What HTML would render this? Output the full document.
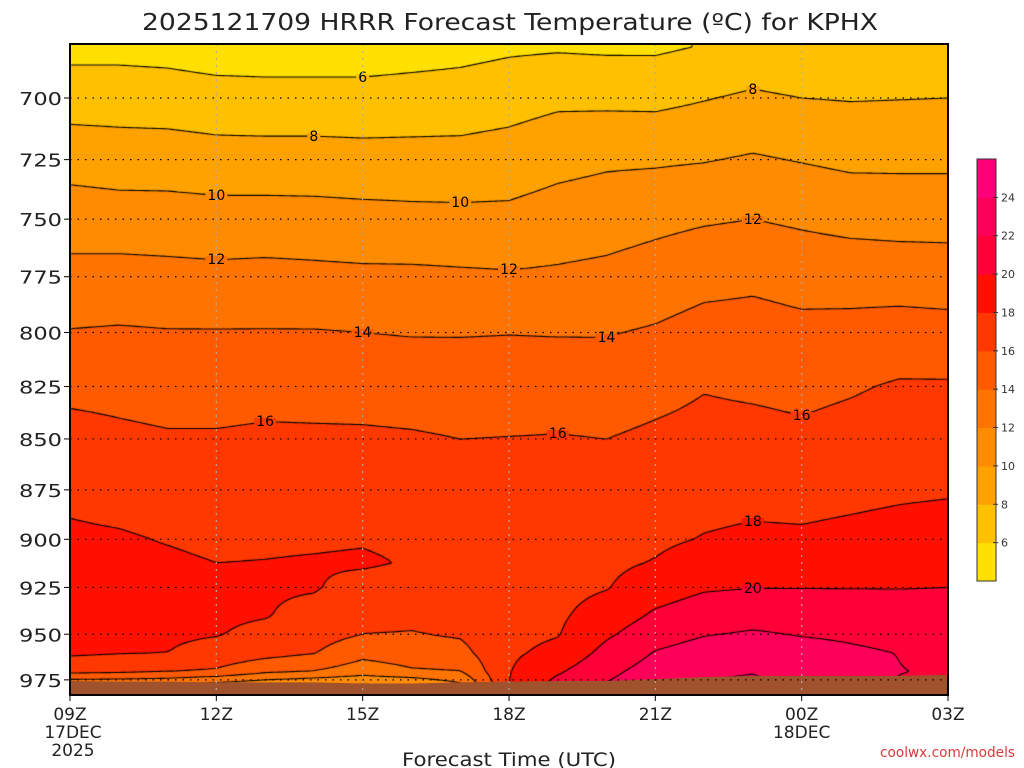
<!DOCTYPE html>
<html><head><meta charset="utf-8">
<style>
html,body{margin:0;padding:0;background:#fff;}
#wrap{position:relative;width:1024px;height:768px;overflow:hidden;font-family:"DejaVu Sans","Liberation Sans",sans-serif;}
canvas,svg{position:absolute;left:0;top:0;}
text{font-family:"DejaVu Sans","Liberation Sans",sans-serif;}
</style></head>
<body>
<div id="wrap">
<canvas id="cv" width="1024" height="768"></canvas>
<svg id="sv" width="1024" height="768"></svg>
</div>
<script>
// ---- data ----
const hourLabels = ["09Z","12Z","15Z","18Z","21Z","00Z","03Z"];
const dateLabels = [["17DEC","2025"],null,null,null,null,["18DEC"],null];
const pressureTicks = [700,725,750,775,800,825,850,875,900,925,950,975];
const pressures = [680,700,725,750,775,800,825,850,875,900,912,925,940,950,960,970,980];
const surfacePressure = [975.6,976.0,976.0,976.4,976.4,976.4,977.0,977.0,976.4,976.0,975.6,975.6,974.6,973.4,972.8,972.8,972.8,972.8,972.2];
const colorbarLevels = [6,8,10,12,14,16,18,20,22,24];
const t09 = [5.4,7.1,9.2,11.1,12.6,14.1,15.5,16.7,17.6,18.3,18.6,18.8,18.8,18.6,18.3,16.7,11];
const t10 = [5.4,7.1,9.0,10.95,12.7,14.2,15.4,16.4,17.3,18.2,18.4,18.6,18.6,18.4,18.1,16.5,11];
const t11 = [5.3,7.0,9.0,10.9,12.6,14.1,15.2,16.2,17.1,17.9,18.3,18.5,18.5,18.3,18.0,16.1,11];
const t12 = [5.0,6.8,8.8,10.8,12.5,14.1,15.2,16.2,16.95,17.6,18.0,18.3,18.3,18.1,17.3,15.8,10];
const t13 = [5.0,6.7,8.8,10.8,12.6,14.1,15.4,16.3,17.0,17.7,18.05,18.2,18.1,17.5,16.7,14.5,9.5];
const t14 = [5.0,6.7,8.8,10.75,12.5,14.1,15.3,16.3,17.1,17.75,18.15,18.15,17.4,16.8,16.1,14.0,9];
const t15 = [5.0,6.7,8.7,10.65,12.4,14.0,15.2,16.3,17.1,17.85,18.25,17.3,16.5,16.0,14.6,13.0,9];
const t16 = [5.2,6.8,8.7,10.55,12.4,13.9,15.1,16.2,16.9,17.6,17.85,17.2,16.4,15.9,15.0,13.8,9];
const t17 = [5.4,6.9,8.7,10.5,12.3,13.9,15.0,16.0,16.7,17.1,17.2,17.0,16.6,16.2,15.4,14.0,11];
const t18 = [5.7,7.2,8.9,10.5,12.2,13.95,15.0,16.05,16.5,16.8,17.0,17.2,17.4,17.5,17.7,17.9,18.1];
const t19 = [5.8,7.6,9.4,10.9,12.3,13.9,15.1,16.1,16.5,17.0,17.2,17.45,17.7,17.9,18.5,19.7,21];
const t20 = [5.7,7.55,9.7,11.15,12.5,13.9,15.0,16.0,16.6,17.3,17.6,17.9,18.9,19.7,20.6,21.5,22.3];
const t21 = [5.7,7.5,9.75,11.5,12.9,14.2,15.4,16.35,17.0,17.65,18.1,19.1,20.3,21.2,22.1,22.8,23.4];
const t22 = [6.1,7.9,9.9,11.8,13.4,14.7,15.9,16.6,17.3,18.1,18.9,19.8,21.0,21.9,22.8,23.6,24.4];
const t23 = [6.6,8.3,10.2,12.0,13.6,14.75,15.7,16.6,17.4,18.35,19.1,19.95,21.35,22.2,23.1,23.9,24.5];
const t00 = [6.3,8.0,9.9,11.7,13.3,14.5,15.5,16.4,17.3,18.3,19.15,19.95,21.2,21.9,22.7,23.3,23.6];
const t01 = [6.4,7.9,9.6,11.4,13.2,14.6,15.8,16.7,17.5,18.5,19.2,19.95,21.0,21.7,22.3,22.9,23.2];
const t02 = [6.5,7.95,9.6,11.3,13.1,14.8,16.2,17.0,17.7,18.7,19.3,19.95,20.8,21.4,21.95,22.05,21.8];
const t03 = [6.6,8.0,9.6,11.3,13.0,14.7,16.2,17.0,17.8,18.9,19.45,20.0,20.6,21.0,21.4,21.8,22.1];
const temps = [t09,t10,t11,t12,t13,t14,t15,t16,t17,t18,t19,t20,t21,t22,t23,t00,t01,t02,t03];
const contourLabels = [["6",6,6],["8",5,8],["8",14,8],["10",3,10],["10",8,10],["12",3,12],["12",9,12],["12",14,12],["14",6,14],["14",11,14],["16",4,16],["16",10,16],["16",15,16],["18",14,18],["20",14,20]];

// ---- layout ----
const PX0=70, PX1=948, PY0=44, PY1=695, NH=temps.length-1;
const bandColors=["#FFE000","#FFC000","#FFA200","#FF8C00","#FF7400","#FF5A00","#FF3800","#FF1000","#FF0038","#FF0058","#FF0078"];
function xOf(h){return PX0+h*(PX1-PX0)/NH;}
function yOf(p){return 98+1756*Math.log(p/700);}
const lnP=pressures.map(p=>Math.log(p));
function field(px,py){
  let h=(px-PX0)/((PX1-PX0)/NH); h=Math.max(0,Math.min(NH,h));
  let i=Math.min(NH-1,Math.floor(h)), fx=h-i;
  let lp=Math.log(700)+(py-98)/1756;
  let j,fy;
  if(lp<=lnP[0]){j=0;fy=0;}
  else if(lp>=lnP[lnP.length-1]){j=lnP.length-2;fy=1;}
  else{ j=0; while(lnP[j+1]<lp) j++; fy=(lp-lnP[j])/(lnP[j+1]-lnP[j]); }
  const a=temps[i][j],b=temps[i+1][j],c=temps[i][j+1],d=temps[i+1][j+1];
  return (a*(1-fx)+b*fx)*(1-fy)+(c*(1-fx)+d*fx)*fy;
}
function band(t){return Math.max(0,Math.min(10,Math.floor((t-4)/2)));}
function hex(c){return [parseInt(c.substr(1,2),16),parseInt(c.substr(3,2),16),parseInt(c.substr(5,2),16)];}
const rgb=bandColors.map(hex);

const cv=document.getElementById('cv'), ctx=cv.getContext('2d');
const img=ctx.createImageData(PX1-PX0,PY1-PY0);
for(let py=PY0;py<PY1;py++){for(let px=PX0;px<PX1;px++){
  const c=rgb[band(field(px+0.5,py+0.5))];
  const k=((py-PY0)*(PX1-PX0)+(px-PX0))*4;
  img.data[k]=c[0];img.data[k+1]=c[1];img.data[k+2]=c[2];img.data[k+3]=255;}}
ctx.putImageData(img,PX0,PY0);

// contour lines (marching squares)
const S=3;
const nx=Math.ceil((PX1-PX0)/S), ny=Math.ceil((PY1-PY0)/S);
const G=[];
for(let j=0;j<=ny;j++){G[j]=[];for(let i=0;i<=nx;i++){G[j][i]=field(Math.min(PX1,PX0+i*S),Math.min(PY1,PY0+j*S));}}
ctx.strokeStyle="#000";ctx.lineWidth=1.1;ctx.beginPath();
for(let L=6;L<=24;L+=2){
  for(let j=0;j<ny;j++)for(let i=0;i<nx;i++){
    const x0=PX0+i*S,y0=PY0+j*S,x1=Math.min(PX1,x0+S),y1=Math.min(PY1,y0+S);
    const v=[G[j][i],G[j][i+1],G[j+1][i+1],G[j+1][i]];
    const pts=[];
    const corners=[[x0,y0],[x1,y0],[x1,y1],[x0,y1]];
    for(let e=0;e<4;e++){const a=v[e],b=v[(e+1)%4];
      if((a<L)!==(b<L)){const f=(L-a)/(b-a);const A=corners[e],B=corners[(e+1)%4];
        pts.push([A[0]+(B[0]-A[0])*f,A[1]+(B[1]-A[1])*f]);}}
    for(let k=0;k+1<pts.length;k+=2){ctx.moveTo(pts[k][0],pts[k][1]);ctx.lineTo(pts[k+1][0],pts[k+1][1]);}
  }
}
ctx.stroke();

// ---- SVG overlay ----
const NS="http://www.w3.org/2000/svg", sv=document.getElementById('sv');
function mk(tag,attrs,parent){const e=document.createElementNS(NS,tag);for(const k in attrs)e.setAttribute(k,attrs[k]);(parent||sv).appendChild(e);return e;}

// contour labels (gap in line filled with local band colour)
contourLabels.forEach(l=>{
  const x=xOf(l[1]);
  let yy=null;
  for(let py=PY0;py<PY1-20;py++){const a=field(x,py),b=field(x,py+1);if((a<l[2])!==(b<l[2])){yy=py;break;}}
  if(yy===null)return;
  const w=l[0].length*9+4;
  const bg=mk('rect',{x:x-w/2,y:yy-3,width:w,height:6,fill:bandColors[band(field(x,yy+4))]});
  
  
  const t=mk('text',{x:x,y:yy+5,'text-anchor':'middle','font-size':'14',fill:'#000'});
  
  
  t.textContent=l[0];
});

// ground
let gp="M"+PX0+","+PY1;
surfacePressure.forEach((p,i)=>{gp+=" L"+xOf(i)+","+yOf(p);});
gp+=" L"+PX1+","+PY1+" Z";
const ground=mk('path',{d:gp,fill:'#A0522D'});



// grid
const grid=mk('g',{});


pressureTicks.forEach(p=>{const y=yOf(p);
  mk('line',{x1:PX0,x2:PX1,y1:y,y2:y,stroke:'#000','stroke-width':1.2,'stroke-dasharray':'1.5 6'},grid);
  mk('line',{x1:PX0-6,x2:PX0,y1:y,y2:y,stroke:'#000','stroke-width':1},grid);
  const t=mk('text',{x:62,y:y+7,'text-anchor':'end','font-size':'18',fill:'#222',textLength:'43',lengthAdjust:'spacingAndGlyphs'});
  
  
  t.textContent=p;
});
hourLabels.forEach((lab,k)=>{const x=xOf(k*3);
  if(k>0&&k<hourLabels.length-1) mk('line',{x1:x,x2:x,y1:PY0,y2:PY1,stroke:'#aaa','stroke-width':1.2,'stroke-dasharray':'2 5'},grid);
  mk('line',{x1:x,x2:x,y1:PY1,y2:PY1+6,stroke:'#000','stroke-width':1},grid);
  const t=mk('text',{x:x,y:720,'text-anchor':'middle','font-size':'17',fill:'#222'});
  
  
  t.textContent=lab;
  if(dateLabels[k]) dateLabels[k].forEach((d,m)=>{
    const u=mk('text',{x:k===0?x+3:x,y:738+m*18,'text-anchor':'middle','font-size':'17',fill:'#222'});
    
    
    u.textContent=d;
  });
});
const frame=mk('rect',{x:PX0,y:PY0,width:PX1-PX0,height:PY1-PY0,fill:'none',stroke:'#000','stroke-width':2});



// colorbar
const cb=mk('g',{});


const CBX=977,CBW=19,CBY0=159,CBY1=581,bh=(CBY1-CBY0)/bandColors.length;
bandColors.forEach((c,i)=>{const r=mk('rect',{x:CBX,y:CBY1-(i+1)*bh,width:CBW,height:bh+0.5,fill:c},cb);
  
  });
mk('rect',{x:CBX,y:CBY0,width:CBW,height:CBY1-CBY0,fill:'none',stroke:'#333','stroke-width':1},cb);
colorbarLevels.forEach((v,i)=>{const y=CBY1-(i+1)*bh;
  mk('line',{x1:CBX+CBW-3,x2:CBX+CBW+2,y1:y,y2:y,stroke:'#333'},cb);
  const t=mk('text',{x:1001,y:y+4,'font-size':'11',fill:'#333'},cb);
  
  
  t.textContent=v;});

// titles
const ti=mk('text',{x:510,y:30,'text-anchor':'middle','font-size':'23',fill:'#222',textLength:'736',lengthAdjust:'spacingAndGlyphs'});


ti.textContent="2025121709 HRRR Forecast Temperature (\u00BAC) for KPHX";
const xt=mk('text',{x:509,y:766,'text-anchor':'middle','font-size':'19',fill:'#222',textLength:'214',lengthAdjust:'spacingAndGlyphs'});


xt.textContent="Forecast Time (UTC)";
const cr=mk('text',{x:1015,y:757,'text-anchor':'end','font-size':'14',fill:'#d83a3a',textLength:'135',lengthAdjust:'spacingAndGlyphs'});


cr.textContent="coolwx.com/models";
</script>
</body></html>
